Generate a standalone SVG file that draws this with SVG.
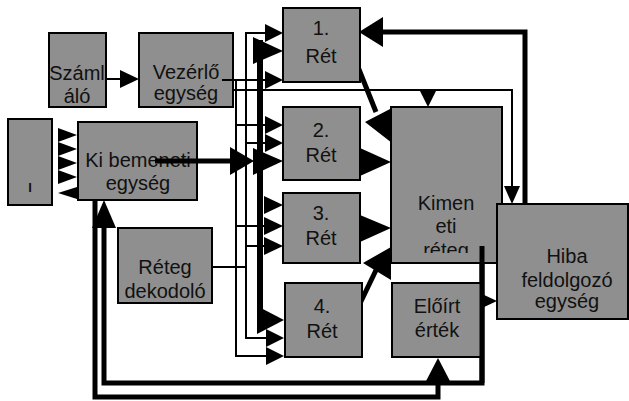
<svg xmlns="http://www.w3.org/2000/svg" width="629" height="401" viewBox="0 0 629 401">
<style>
.box{fill:#8f8f8f;stroke:#000;stroke-width:2}
.t{font-family:"Liberation Sans",Arial,sans-serif;font-size:20px;text-anchor:middle;fill:#111}
.thin{fill:none;stroke:#000;stroke-width:2}
.thick{fill:none;stroke:#000;stroke-width:5}
.bus{fill:none;stroke:#000;stroke-width:6}
.ah{fill:#000;stroke:none}
</style>
<defs>
<clipPath id="clipReteg"><rect x="391" y="107" width="111" height="146"/></clipPath>
</defs>
<rect width="629" height="401" fill="#fff"/>

<g id="connectors">
  <!-- Számláló -> Vezérlő -->
  <path class="thin" d="M106,79 H122"/>
  <polygon class="ah" points="120,70 139,79 120,88"/>
  <!-- bus thin line A (from Vezérlő at y=80) -->
  <path class="thin" d="M222,80 H266"/>
  <path class="thin" d="M236,80 V356 H266"/>
  <!-- bus thin line B -->
  <path class="thin" d="M266,33 H246 V338 H266"/>
  <!-- Vezérlő -> Kimeneti / Hiba -->
  <path class="thin" d="M233,90 H512 V188"/>
  <polygon class="ah" points="504,186 512,204 520,186"/>
  <polygon class="ah" points="419,89 437,89 428,107"/>
  <!-- taps to 2. and 3. Rét -->
  <path class="thin" d="M236,125 H266 M246,143 H266 M236,226 H266 M246,246 H266"/>
  <!-- Réteg dekodoló -> bus -->
  <path class="thin" d="M193,267 H247"/>
  <!-- thick bus -->
  <path class="bus" d="M260,40 V322"/>
  <!-- arrowheads into 1. Rét -->
  <polygon class="ah" points="265,24 283,33 265,42"/>
  <polygon class="ah" points="253,37 283,51 253,64"/>
  <polygon class="ah" points="265,71 283,80 265,89"/>
  <!-- arrowheads into 2. Rét -->
  <polygon class="ah" points="265,116 283,125 265,134"/>
  <polygon class="ah" points="265,134 283,143 265,152"/>
  <path class="thick" d="M155,161 H232"/>
  <polygon class="ah" points="230,147 254,161 230,175"/>
  <polygon class="ah" points="253,148 283,161 253,175"/>
  <!-- arrowheads into 3. Rét -->
  <polygon class="ah" points="264,196 283,205 264,214"/>
  <polygon class="ah" points="264,217 283,226 264,235"/>
  <polygon class="ah" points="264,237 283,246 264,255"/>
  <!-- arrowheads into 4. Rét -->
  <polygon class="ah" points="257,306 284,320 257,334"/>
  <polygon class="ah" points="266,329 284,338 266,347"/>
  <polygon class="ah" points="266,347 284,356 266,365"/>
  <!-- Réts -> Kimeneti -->
  <path class="thick" d="M352,52 L376,112"/>
  <polygon class="ah" points="365,122 392,108 392,143"/>
  <path class="thick" d="M353,162 H362"/>
  <polygon class="ah" points="360,148 391,162 360,176"/>
  <path class="thick" d="M353,228 H362"/>
  <polygon class="ah" points="360,215 391,228 360,242"/>
  <path class="thick" d="M353,318 L378,266"/>
  <polygon class="ah" points="391,247 363,263 391,280"/>
  <!-- Kimeneti -> Hiba, Előírt -> Hiba -->
  <polygon class="ah" points="467,213 497,228 467,243"/>
  <polygon class="ah" points="467,287 497,301 467,315"/>
  <!-- Hiba -> 1. Rét -->
  <path class="thick" d="M525,205 V32 H380"/>
  <polygon class="ah" points="383,17 359,32 383,47"/>
  <!-- Kimeneti -> Ki bemeneti -->
  <path class="thick" d="M473,246 H482 V383 H104 V226"/>
  <polygon class="ah" points="92,228 104,200 116,228"/>
  <!-- Ki bemeneti -> Előírt -->
  <path class="thick" d="M95,201 V397 H438 V381"/>
  <polygon class="ah" points="425,383 438,358 451,383"/>
  <!-- I <-> Ki bemeneti -->
  <polygon class="ah" points="58,128 77,135 58,142"/>
  <polygon class="ah" points="58,142 77,149 58,156"/>
  <polygon class="ah" points="58,156 77,163 58,170"/>
  <polygon class="ah" points="58,170 77,177 58,184"/>
  <polygon class="ah" points="77,187 58,193 77,199"/>
</g>

<g id="szamlalo">
  <rect class="box" x="49" y="33" width="57" height="74"/>
  <text class="t" x="77" y="80">Száml</text>
  <text class="t" x="77" y="103">áló</text>
</g>
<g id="vezerlo">
  <rect class="box" x="139" y="33" width="94" height="74"/>
  <text class="t" x="186" y="79">Vezérlő</text>
  <text class="t" x="186" y="100">egység</text>
</g>
<g id="input-i">
  <rect class="box" x="8" y="119" width="44" height="86"/>
  <text class="t" x="30" y="192" style="font-size:13px;font-weight:bold">I</text>
</g>
<g id="ki-bemeneti">
  <rect class="box" x="78" y="122" width="119" height="78"/>
  <text class="t" x="138" y="167">Ki bemeneti</text>
  <text class="t" x="138" y="190">egység</text>
</g>
<g id="reteg-dekodolo">
  <rect class="box" x="118" y="228" width="94" height="75"/>
  <text class="t" x="165" y="274">Réteg</text>
  <text class="t" x="165" y="298">dekodoló</text>
</g>
<g id="ret1">
  <rect class="box" x="283" y="8" width="77" height="74"/>
  <text class="t" x="321" y="35">1.</text>
  <text class="t" x="321" y="63">Rét</text>
</g>
<g id="ret2">
  <rect class="box" x="283" y="107" width="77" height="73"/>
  <text class="t" x="321" y="137">2.</text>
  <text class="t" x="321" y="162">Rét</text>
</g>
<g id="ret3">
  <rect class="box" x="283" y="193" width="77" height="70"/>
  <text class="t" x="321" y="220">3.</text>
  <text class="t" x="321" y="245">Rét</text>
</g>
<g id="ret4">
  <rect class="box" x="285" y="283" width="77" height="74"/>
  <text class="t" x="322" y="313">4.</text>
  <text class="t" x="322" y="338">Rét</text>
</g>
<g id="kimeneti-reteg">
  <rect class="box" x="391" y="107" width="111" height="156"/>
  <text class="t" x="446" y="210">Kimen</text>
  <text class="t" x="446" y="233">eti</text>
  <text class="t" x="446" y="257" clip-path="url(#clipReteg)">réteg</text>
</g>
<g id="eloirt-ertek">
  <rect class="box" x="392" y="283" width="90" height="74"/>
  <text class="t" x="437" y="313">Előírt</text>
  <text class="t" x="437" y="337">érték</text>
</g>
<g id="hiba-feldolgozo">
  <rect class="box" x="497" y="204" width="131" height="115"/>
  <text class="t" x="567" y="263">Hiba</text>
  <text class="t" x="567" y="287">feldolgozó</text>
  <text class="t" x="567" y="308">egység</text>
</g>
<g id="overlays">
  <path class="thick" d="M482,246 V383"/>
  <path class="thin" d="M222,80 H233"/>
  <path class="thick" d="M155,161 H197"/>
</g>
</svg>
